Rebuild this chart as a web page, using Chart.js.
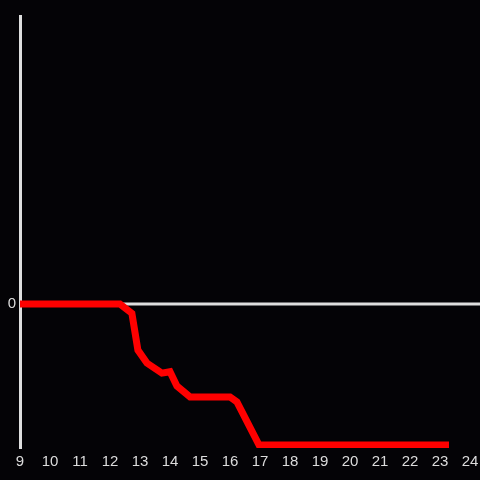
<!DOCTYPE html>
<html lang="en">
<head>
    <meta charset="UTF-8">
    <title>Line chart</title>
    <style>
        body {
            margin: 0;
            padding: 0;
            background-color: #040306;
        }
        .chart-box {
            width: 480px;
            height: 480px;
        }
    </style>
</head>
<body>
    <div class="chart-box">
        <canvas id="lineChart"></canvas>
    </div>

    <script src="https://cdn.jsdelivr.net/npm/chart.js"></script>
<script>
    // Values
    const xValues = [9, 12.33, 12.73, 12.93, 13.23, 13.73, 14.0, 14.23, 14.67, 16.0, 16.23, 16.97, 23.3];
    const yValues = [0, 0, -0.065, -0.32, -0.41, -0.48, -0.47, -0.57, -0.645, -0.645, -0.68, -0.98, -0.98];
    const xTicks = [9, 10, 11, 12, 13, 14, 15, 16, 17, 18, 19, 20, 21, 22, 23, 24];
    const yTicks = [0];

    const axisColor = '#dedede';
    const labelFont = { family: 'Liberation Sans', size: 15 };

    // Zero line from the y axis to the right edge of the canvas
    const zeroLine = {
        id: 'zeroLine',
        beforeDatasetsDraw(chart) {
            const ctx = chart.ctx;
            const y = chart.scales.y.getPixelForValue(0);
            ctx.save();
            ctx.strokeStyle = axisColor;
            ctx.lineWidth = 3;
            ctx.beginPath();
            ctx.moveTo(chart.chartArea.left, y);
            ctx.lineTo(chart.width, y);
            ctx.stroke();
            ctx.restore();
        }
    };

    const ctx = document.getElementById('lineChart').getContext('2d');
    new Chart(ctx, {
        type: 'line',
        data: {
            datasets: [{
                data: xValues.map((x, i) => ({ x: x, y: yValues[i] })),
                borderColor: '#ff0000',
                borderWidth: 7,
                pointRadius: 0,
                tension: 0,
                fill: false
            }]
        },
        options: {
            responsive: true,
            maintainAspectRatio: false,
            animation: false,
            layout: { padding: { top: 16, right: 0, left: 0, bottom: 0 } },
            plugins: {
                legend: { display: false },
                tooltip: { enabled: false }
            },
            scales: {
                x: {
                    type: 'linear',
                    min: 9,
                    max: 24,
                    afterBuildTicks: scale => { scale.ticks = xTicks.map(v => ({ value: v })); },
                    afterFit: scale => {
                        scale.height = 32;
                        scale.paddingLeft = 0;
                        scale.paddingRight = 10;
                    },
                    grid: { display: false, drawTicks: false },
                    border: { display: false },
                    ticks: {
                        color: '#dcdcdc',
                        font: labelFont,
                        padding: 5,
                        maxRotation: 0
                    }
                },
                y: {
                    min: -1,
                    max: 2,
                    afterBuildTicks: scale => { scale.ticks = yTicks.map(v => ({ value: v })); },
                    afterFit: scale => { scale.width = 20; },
                    grid: { display: false, drawTicks: false },
                    border: { display: true, color: axisColor, width: 3 },
                    ticks: {
                        color: '#dcdcdc',
                        font: labelFont,
                        padding: 4
                    }
                }
            }
        },
        plugins: [zeroLine]
    });
</script>
</body>
</html>
